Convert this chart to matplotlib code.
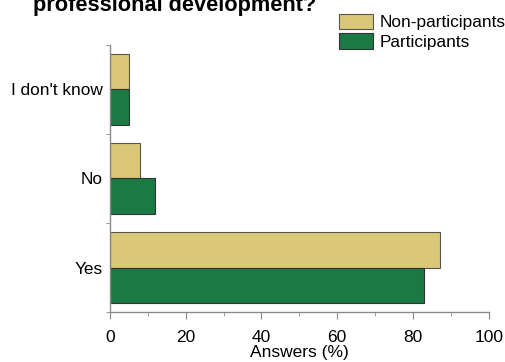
import numpy as np
import matplotlib.pyplot as plt
from matplotlib.ticker import MultipleLocator, FixedLocator

plt.rcParams['font.family'] = ['Liberation Sans', 'DejaVu Sans']

answers = ['Yes', 'No', "I don't know"]
non_participants = [87, 8, 5]
participants = [83, 12, 5]

yellow = '#dbc877'
green = '#1b7a43'
axis_grey = '#8a8a8a'

fig = plt.figure(figsize=(5.06, 3.62), dpi=100)
ax = fig.add_axes([0.217, 0.138, 0.749, 0.738])

y = np.arange(len(answers))
h = 0.4
ax.barh(y + h / 2, non_participants, height=h, color=yellow,
        edgecolor='#555555', linewidth=0.8, label='Non-participants')
ax.barh(y - h / 2, participants, height=h, color=green,
        edgecolor='#333333', linewidth=0.8, label='Participants')

ax.set_xlim(0, 100)
ax.set_ylim(-0.5, len(answers) - 0.5)
ax.xaxis.set_major_locator(MultipleLocator(20))
ax.xaxis.set_minor_locator(MultipleLocator(10))
ax.set_yticks(y)
ax.set_yticklabels(answers)
ax.yaxis.set_minor_locator(FixedLocator(np.arange(-0.5, len(answers), 1.0)))

for side in ['top', 'right']:
    ax.spines[side].set_visible(False)
for side in ['left', 'bottom']:
    ax.spines[side].set_color(axis_grey)
    ax.spines[side].set_linewidth(1.0)

ax.tick_params(axis='x', which='major', length=5, color=axis_grey,
               labelsize=12.5, pad=8)
ax.tick_params(axis='x', which='minor', length=3, color=axis_grey)
ax.tick_params(axis='y', which='major', length=0, labelsize=12.4, pad=5)
ax.tick_params(axis='y', which='minor', length=3, color=axis_grey)

ax.set_xlabel('Answers (%)', fontsize=12.5, labelpad=0)

# second line of the question; the first line runs off the top edge
fig.text(0.346, 0.97, 'professional development?', ha='center',
         va='baseline', fontsize=15.7, fontweight='bold')

fig.legend(loc='upper right', bbox_to_anchor=(1.0, 0.962), frameon=False,
           fontsize=12.4, handlelength=2.0, handleheight=1.0,
           handletextpad=0.4, labelspacing=0.16, borderaxespad=0.0,
           borderpad=0.0)

fig.savefig('out.png', dpi=100)
